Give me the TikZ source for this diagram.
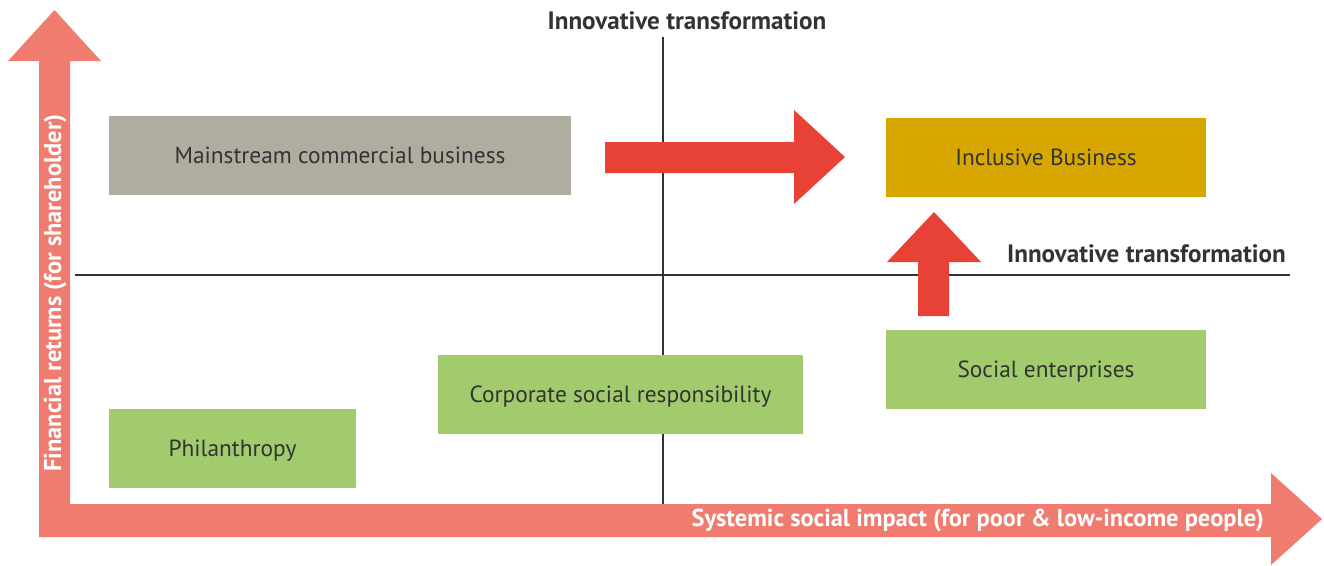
\documentclass[tikz,border=0pt]{standalone}
\usepackage{fontspec}
\setmainfont{PT Sans}
\usepackage{tikz}
\definecolor{axisred}{HTML}{F07B6F}
\definecolor{shiftred}{HTML}{E84135}
\definecolor{mainstreamgray}{HTML}{AFADA0}
\definecolor{ibyellow}{HTML}{D7A700}
\definecolor{socialgreen}{HTML}{A1CB6D}
\definecolor{textdark}{HTML}{333333}

\begin{document}
\begin{tikzpicture}[
  x=0.02cm, y=-0.02cm,
  every node/.style={font=\fontsize{13.3}{16}\selectfont,text=textdark},
  box/.style={rectangle,inner sep=0pt,minimum height=1.58cm,text depth=0pt},
  label/.style={font=\fontsize{14.3}{17}\selectfont\bfseries},
  axislabel/.style={font=\fontsize{13.9}{17}\selectfont\bfseries,text=white},
  divider/.style={draw=black!80,line width=0.6pt}
]
\useasboundingbox (0,0) rectangle (1324,565);

% quadrant lines
\draw[divider] (663,37) -- (663,504);
\draw[divider] (75,275) -- (1290,275);

% axes as one L-shaped arrow
\fill[axisred] (39,504) -- (39,61) -- (8,61) -- (54.5,10) -- (101,61) -- (70,61)
  -- (70,504) -- (1271,504) -- (1271,473) -- (1322,519) -- (1271,565)
  -- (1271,537) -- (39,537) -- cycle;

% boxes
\node[box,fill=mainstreamgray,minimum width=9.24cm] (mainstream) at (340,155.5) {Mainstream commercial business};
\node[box,fill=ibyellow,minimum width=6.4cm] (inclusive) at (1046,157.5) {Inclusive Business};
\node[box,fill=socialgreen,minimum width=6.4cm] (social) at (1046,369.5) {Social enterprises};
\node[box,fill=socialgreen,minimum width=7.3cm] (csr) at (620.5,394.5) {Corporate social responsibility};
\node[box,fill=socialgreen,minimum width=4.94cm] (philanthropy) at (232.5,448.5) {Philanthropy};

% transformation arrows
\fill[shiftred] (605,142) -- (794,142) -- (794,110) -- (845,157) -- (794,204)
  -- (794,173) -- (605,173) -- cycle;
\fill[shiftred] (918,316) -- (918,262) -- (887,262) -- (934,212) -- (981,262)
  -- (949,262) -- (949,316) -- cycle;

% labels
\node[label] (toplabel) at (687,21) {Innovative transformation};
\node[label,anchor=east] (rightlabel) at (1292,254) {Innovative transformation};
\node[axislabel,rotate=90] (ylabel) at (55,293) {Financial returns (for shareholder)};
\node[axislabel,anchor=east] (xlabel) at (1270,520) {Systemic social impact (for poor \& low-income people)};
\end{tikzpicture}
\end{document}
